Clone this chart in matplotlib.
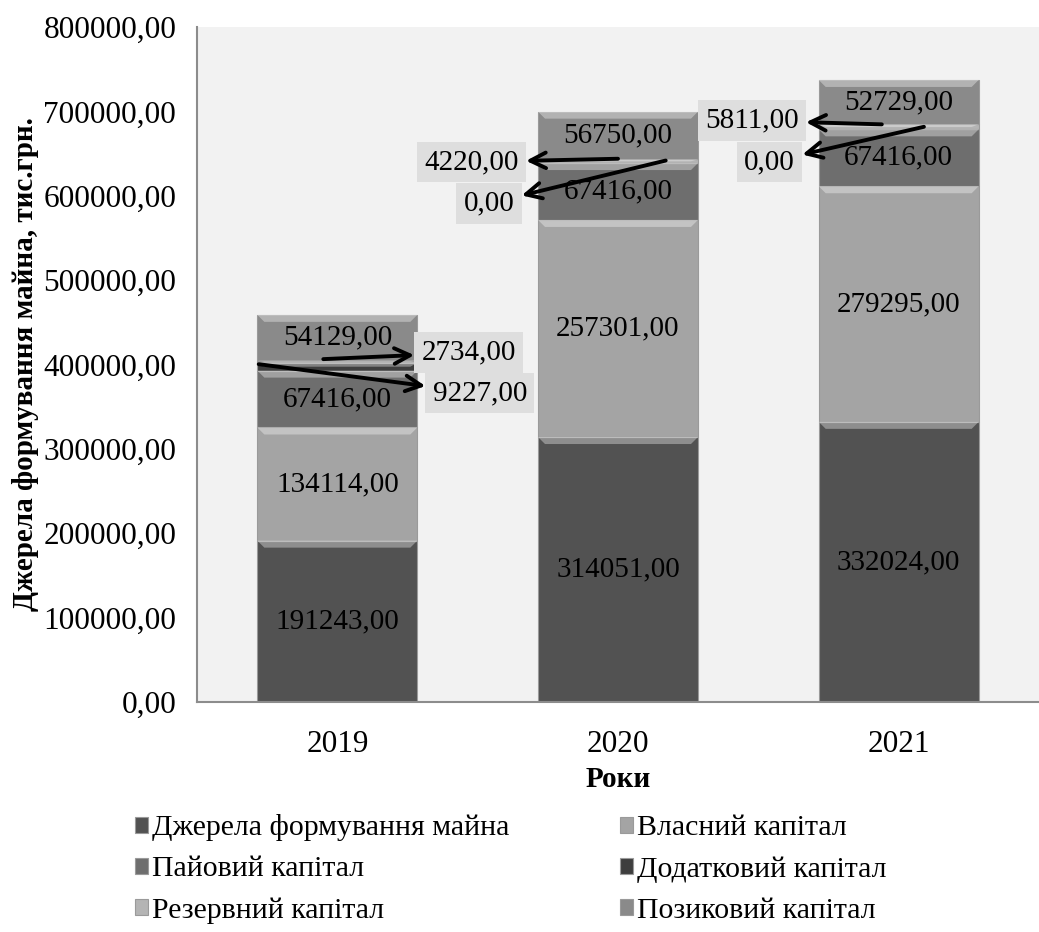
import numpy as np
import matplotlib
matplotlib.use('Agg')
import matplotlib.pyplot as plt
from matplotlib.patches import Polygon

plt.rcParams['font.family'] = ['Liberation Serif', 'DejaVu Serif']

years = ['2019', '2020', '2021']
series_names = ['Джерела формування майна', 'Власний капітал', 'Пайовий капітал',
                'Додатковий капітал', 'Резервний капітал', 'Позиковий капітал']
dzherela = [191243.00, 314051.00, 332024.00]
vlasnyi = [134114.00, 257301.00, 279295.00]
paiovyi = [67416.00, 67416.00, 67416.00]
dodatkovyi = [9227.00, 0.00, 0.00]
rezervnyi = [2734.00, 4220.00, 5811.00]
pozykovyi = [54129.00, 56750.00, 52729.00]

colors = ['#525252', '#a4a4a4', '#6e6e6e', '#3e3e3e', '#b4b4b4', '#8a8a8a']

# labels of the thin segments are drawn outside with arrows
# (series index, year index, arrow start dx, text x, text y)
callouts = [
    (4, 0, -0.05, 0.30, 414000),
    (3, 0, -0.28, 0.34, 366000),
    (4, 1, 0.0, 0.31, 640000),
    (3, 1, 0.17, 0.45, 591000),
    (4, 2, -0.06, 1.31, 689000),
    (3, 2, 0.09, 1.45, 640000),
]


def fmt(v):
    return f'{v:.2f}'.replace('.', ',')


def main():
    data = [dzherela, vlasnyi, paiovyi, dodatkovyi, rezervnyi, pozykovyi]
    x = np.arange(len(years))

    fig = plt.figure(figsize=(10.39, 9.32), dpi=100)
    ax = fig.add_axes([0.1896, 0.2468, 0.8104, 0.7242])
    ax.set_facecolor('#f2f2f2')
    ax.set_xlim(-0.5, 2.5)
    ax.set_ylim(0, 800000)

    bottom = np.zeros(len(years))
    bars = []
    for name, vals, c in zip(series_names, data, colors):
        b = ax.bar(x, vals, 0.57, bottom=bottom, color=c, edgecolor='#9a9a9a',
                   linewidth=0.8, label=name, zorder=2)
        bars.append((b, bottom.copy(), np.array(vals)))
        bottom = bottom + np.array(vals)

    # bevel highlight on top of every segment
    y_per_px = 800000 / ax.bbox.height
    x_per_px = 3.0 / ax.bbox.width
    for b, bot, vals in bars:
        for rect, v in zip(b.patches, vals):
            if v <= 0:
                continue
            x0, w = rect.get_x(), rect.get_width()
            top = rect.get_y() + rect.get_height()
            h = min(7 * y_per_px, rect.get_height() / 2)
            d = 7 * x_per_px
            poly = Polygon([(x0, top), (x0 + w, top), (x0 + w - d, top - h), (x0 + d, top - h)],
                           closed=True, facecolor='white', alpha=0.35, edgecolor='none', zorder=3)
            ax.add_patch(poly)

    # inside labels
    for si, (b, bot, vals) in enumerate(bars):
        if si in (3, 4):
            continue
        for i, v in enumerate(vals):
            ax.text(x[i], bot[i] + v / 2, fmt(v), ha='center', va='center',
                    fontsize=21, color='black', zorder=5)

    for si, yi, dx, tx, ty in callouts:
        b, bot, vals = bars[si]
        ymid = bot[yi] + vals[yi] / 2 + 3000
        ax.annotate(fmt(vals[yi]), xy=(x[yi] + dx, ymid), xytext=(tx, ty),
                    textcoords='data', ha='left', va='center', fontsize=21, zorder=6,
                    bbox=dict(boxstyle='square,pad=0.25', fc='#dedede', ec='none'),
                    arrowprops=dict(arrowstyle='<-', lw=2.8, color='black',
                                    mutation_scale=28, shrinkA=0, shrinkB=0))

    ax.set_yticks(np.arange(0, 800001, 100000))
    ax.set_yticklabels([fmt(v) for v in np.arange(0, 800001, 100000)], fontsize=22.5)
    ax.set_xticks(x)
    ax.set_xticklabels(years, fontsize=22.5)
    ax.tick_params(length=0)
    ax.tick_params(axis='x', pad=20)
    ax.tick_params(axis='y', pad=15)
    for s in ['top', 'right']:
        ax.spines[s].set_visible(False)
    ax.spines['left'].set_color('#8c8c8c')
    ax.spines['bottom'].set_color('#8c8c8c')
    ax.spines['left'].set_linewidth(1.5)
    ax.spines['bottom'].set_linewidth(1.5)

    ax.set_xlabel('Роки', fontsize=21, fontweight='bold', labelpad=5)
    ax.set_ylabel('Джерела формування майна, тис.грн.', fontsize=21,
                  fontweight='bold', labelpad=3)

    handles, labels = ax.get_legend_handles_labels()
    order = [0, 2, 4, 1, 3, 5]
    fig.legend([handles[k] for k in order], [labels[k] for k in order],
               loc='upper left', bbox_to_anchor=(0.104, 0.155), ncol=2,
               frameon=False, fontsize=21.5, handlelength=0.45, handleheight=0.45,
               handletextpad=0.12, columnspacing=3.7, labelspacing=0.5)

    plt.savefig('out.png', dpi=100)
    plt.close('all')


if __name__ == '__main__':
    main()
